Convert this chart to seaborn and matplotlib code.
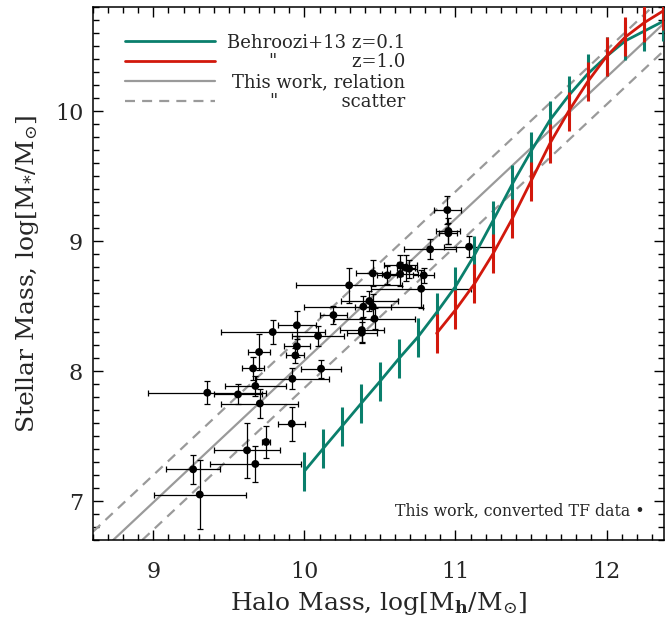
import numpy as np
import pandas as pd
import matplotlib
matplotlib.use("Agg")
import matplotlib.pyplot as plt
from matplotlib.lines import Line2D
from matplotlib.ticker import MultipleLocator
import seaborn as sns

# ---------------- data ----------------
# Behroozi+13, z=0.1
halo_z01 = [10.0, 10.125, 10.25, 10.375, 10.5, 10.625, 10.75, 10.875, 11.0, 11.125,
            11.25, 11.375, 11.5, 11.625, 11.75, 11.875, 12.0, 12.125, 12.25, 12.375]
mstar_z01 = [7.23, 7.405, 7.577, 7.75, 7.92, 8.095, 8.26, 8.45, 8.65, 8.89,
             9.16, 9.436, 9.69, 9.93, 10.12, 10.285, 10.42, 10.54, 10.615, 10.69]
# Behroozi+13, z=1.0
halo_z10 = [10.875, 11.0, 11.125, 11.25, 11.375, 11.5, 11.625, 11.75, 11.875,
            12.0, 12.125, 12.25, 12.375]
mstar_z10 = [8.29, 8.47, 8.67, 8.905, 9.17, 9.46, 9.75, 10.0, 10.225,
             10.42, 10.57, 10.68, 10.77]
behroozi_err = 0.15

# This work: relation and scatter
rel_slope = 1.09
rel_intercept = -2.82
rel_scatter = 0.21

# This work: converted TF data
tf_halo = [10.946, 10.953, 10.953, 10.832, 11.09, 10.634, 10.671, 10.693, 10.453, 10.548,
           10.634, 10.79, 10.773, 10.296, 10.43, 10.39, 10.452, 10.464, 10.192, 10.38,
           10.38, 9.95, 9.79, 10.09, 9.95, 9.94, 9.70, 9.66, 10.11, 9.92,
           9.675, 9.357, 9.56, 9.705, 9.916, 9.746, 9.62, 9.675, 9.263, 9.307]
tf_mstar = [9.238, 9.077, 9.06, 8.936, 8.956, 8.813, 8.795, 8.787, 8.751, 8.736,
            8.746, 8.736, 8.633, 8.659, 8.538, 8.495, 8.495, 8.402, 8.43, 8.315,
            8.295, 8.352, 8.30, 8.27, 8.19, 8.12, 8.146, 8.02, 8.018, 7.94,
            7.885, 7.833, 7.82, 7.75, 7.595, 7.454, 7.39, 7.285, 7.244, 7.05]
tf_halo_err = [0.088, 0.08, 0.06, 0.17, 0.165, 0.11, 0.06, 0.05, 0.114, 0.066,
               0.12, 0.07, 0.33, 0.35, 0.19, 0.395, 0.12, 0.27, 0.09, 0.147,
               0.10, 0.127, 0.345, 0.175, 0.086, 0.06, 0.074, 0.074, 0.13, 0.24,
               0.20, 0.39, 0.157, 0.255, 0.09, 0.025, 0.22, 0.30, 0.18, 0.305]
tf_mstar_err = [0.11, 0.10, 0.08, 0.077, 0.08, 0.08, 0.10, 0.07, 0.10, 0.07,
                0.09, 0.06, 0.145, 0.137, 0.08, 0.08, 0.10, 0.08, 0.07, 0.09,
                0.08, 0.108, 0.096, 0.08, 0.08, 0.06, 0.14, 0.09, 0.07, 0.08,
                0.08, 0.09, 0.077, 0.115, 0.13, 0.12, 0.21, 0.14, 0.113, 0.267]

legend_labels = ["Behroozi+13 z=0.1",
                 '"' + " " * 13 + "z=1.0",
                 "This work, relation",
                 '"' + " " * 11 + "scatter"]
note_text = "This work, converted TF data \u2022"
x_label = r"Halo Mass, log[M$_{\mathbf{h}}$/M$_{\odot}$]"
y_label = r"Stellar Mass, log[M$_{*}$/M$_{\odot}$]"
x_ticks = [9, 10, 11, 12]
y_ticks = [7, 8, 9, 10]
x_limits = (8.6, 12.38)
y_limits = (6.7, 10.8)

# ---------------- style ----------------
teal = "#0a7f6c"
red = "#d2180c"
gray = "#9a9a9a"

sns.set_style("ticks")
plt.rcParams["font.family"] = ["DejaVu Serif"]
plt.rcParams["mathtext.fontset"] = "dejavuserif"

fig = plt.figure(figsize=(6.65, 6.2), dpi=100)
ax = fig.add_axes([0.1398, 0.129, 0.8586, 0.8597])

# relation and scatter
ax.axline((0, rel_intercept), slope=rel_slope, color=gray, lw=1.6, zorder=1)
for s in (1, -1):
    ax.axline((0, rel_intercept + s * rel_scatter), slope=rel_slope, color=gray,
              lw=1.6, ls=(0, (4.5, 3.2)), zorder=1)

# TF data
ax.errorbar(tf_halo, tf_mstar, xerr=tf_halo_err, yerr=tf_mstar_err, fmt="none",
            ecolor="black", elinewidth=0.9, capsize=2.0, capthick=0.9, zorder=2)
sns.scatterplot(x=tf_halo, y=tf_mstar, color="black", s=32, edgecolor="none",
                zorder=3, ax=ax, legend=False)

# Behroozi curves
df = pd.concat([
    pd.DataFrame({"halo": halo_z01, "mstar": mstar_z01, "z": "0.1"}),
    pd.DataFrame({"halo": halo_z10, "mstar": mstar_z10, "z": "1.0"}),
])
for zlab, col, zo in (("0.1", teal, 4), ("1.0", red, 5)):
    sub = df[df["z"] == zlab]
    sns.lineplot(data=sub, x="halo", y="mstar", color=col, lw=2.0, estimator=None,
                 sort=False, ax=ax, zorder=zo, legend=False)
    ax.errorbar(sub["halo"], sub["mstar"], yerr=behroozi_err, fmt="none",
                ecolor=col, elinewidth=2.2, zorder=zo)

ax.set_xlim(*x_limits)
ax.set_ylim(*y_limits)
ax.set_xticks(x_ticks)
ax.set_yticks(y_ticks)
ax.xaxis.set_minor_locator(MultipleLocator(0.1))
ax.yaxis.set_minor_locator(MultipleLocator(0.1))
ax.tick_params(which="both", direction="in", top=True, right=True, width=1.0,
               color="black")
ax.tick_params(which="major", length=7.5)
ax.tick_params(which="minor", length=4)
ax.tick_params(axis="x", which="major", labelsize=16, pad=15)
ax.tick_params(axis="y", which="major", labelsize=16, pad=7)
for sp in ax.spines.values():
    sp.set_linewidth(1.1)
    sp.set_color("black")

ax.set_xlabel(x_label, fontsize=18, labelpad=5)
ax.set_ylabel(y_label, fontsize=18, labelpad=10)

handles = [Line2D([], [], color=teal, lw=2.0),
           Line2D([], [], color=red, lw=2.0),
           Line2D([], [], color=gray, lw=1.6),
           Line2D([], [], color=gray, lw=1.6, ls=(0, (4.5, 3.2)))]
leg = ax.legend(handles, legend_labels, loc="upper left", bbox_to_anchor=(0.056, 0.95),
                frameon=False, fontsize=13, handlelength=5.0, handletextpad=0.6,
                labelspacing=0.1, borderpad=0, borderaxespad=0)
try:
    col_box = leg._legend_handle_box.get_children()[0]
    col_box.set_width(280)
    for row in col_box.get_children():
        row.mode = "expand"
except Exception:
    pass

ax.text(0.967, 0.053, note_text, ha="right", va="center", fontsize=11.3,
        transform=ax.transAxes)

fig.savefig("out.png", dpi=100)
